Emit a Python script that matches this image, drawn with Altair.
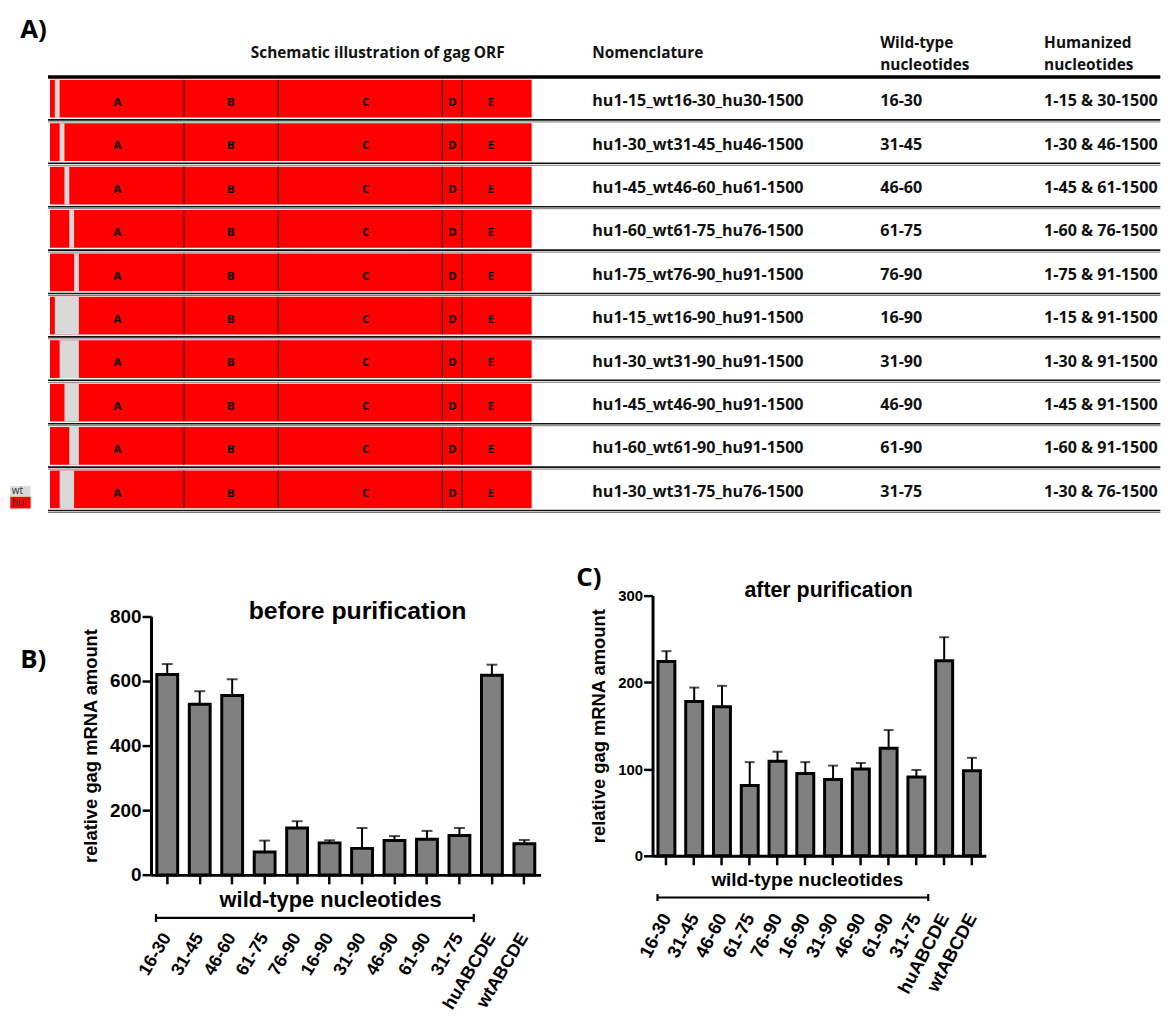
import altair as alt
import pandas as pd

# ---------------- Panel A: construct table ----------------
construct_names = [
    "hu1-15_wt16-30_hu30-1500", "hu1-30_wt31-45_hu46-1500", "hu1-45_wt46-60_hu61-1500",
    "hu1-60_wt61-75_hu76-1500", "hu1-75_wt76-90_hu91-1500", "hu1-15_wt16-90_hu91-1500",
    "hu1-30_wt31-90_hu91-1500", "hu1-45_wt46-90_hu91-1500", "hu1-60_wt61-90_hu91-1500",
    "hu1-30_wt31-75_hu76-1500",
]
wt_nucleotides = ["16-30", "31-45", "46-60", "61-75", "76-90",
                  "16-90", "31-90", "46-90", "61-90", "31-75"]
hu_nucleotides = ["1-15 & 30-1500", "1-30 & 46-1500", "1-45 & 61-1500", "1-60 & 76-1500",
                  "1-75 & 91-1500", "1-15 & 91-1500", "1-30 & 91-1500", "1-45 & 91-1500",
                  "1-60 & 91-1500", "1-30 & 76-1500"]
wt_start = [16, 31, 46, 61, 76, 16, 31, 46, 61, 31]
wt_end = [30, 45, 60, 75, 90, 90, 90, 90, 90, 75]
orf_length = 1500
region_letters = ["A", "B", "C", "D", "E"]
region_boundaries = [417, 711, 1222, 1283]
region_label_pos = [210, 563, 984, 1253, 1373]
legend_keys = ["wt", "hu"]
header_cols = ["Schematic illustration of gag ORF", "Nomenclature",
               "Wild-type", "nucleotides", "Humanized", "nucleotides"]

# ---------------- Panels B / C: relative gag mRNA ----------------
categories = ["16-30", "31-45", "46-60", "61-75", "76-90", "16-90", "31-90",
              "46-90", "61-90", "31-75", "huABCDE", "wtABCDE"]
before_mean = [620, 528, 555, 71, 145, 99, 82, 106, 110, 122, 617, 96]
before_err = [32, 40, 50, 35, 21, 8, 63, 14, 26, 23, 33, 12]
after_mean = [224, 178, 172, 81, 109, 95, 88, 100, 124, 91, 225, 98]
after_err = [12, 16, 24, 27, 11, 13, 16, 7, 21, 8, 27, 15]

RED = "#FF0000"
GREY = "#D9D9D9"
TFONT = "Open Sans"
PFONT = "Liberation Sans"

# Panel A's plot origin is aligned (by the layout) with panel B's plot origin.
ORIGIN_X = 151.7


def ax(px):
    return px - ORIGIN_X


# ================= Panel A =================
A_W, A_H = ax(1168), 437
n_rows = len(construct_names)
rows = pd.DataFrame({
    "row": list(range(n_rows)),
    "name": construct_names,
    "wt": wt_nucleotides,
    "hu": hu_nucleotides,
    "wt_s": [s - 1 for s in wt_start],
    "wt_e": wt_end,
})
rows["y0"] = rows["row"] + 0.065
rows["y1"] = rows["row"] + 0.935
rows["ytxt"] = rows["row"] + 0.56
rows["orf0"] = 0
rows["orf1"] = orf_length

bnd = pd.DataFrame([(r, b) for r in range(n_rows) for b in region_boundaries], columns=["row", "b"])
bnd["y0"] = bnd["row"] + 0.065
bnd["y1"] = bnd["row"] + 0.935
lets = pd.DataFrame([(r, l, p) for r in range(n_rows) for l, p in zip(region_letters, region_label_pos)],
                    columns=["row", "letter", "pos"])
lets["ylab"] = lets["row"] + 0.6
lines = pd.DataFrame({"b": list(range(1, n_rows + 1))})
one = pd.DataFrame({"k": [0]})

xs = alt.Scale(domain=[0, orf_length], range=[ax(50), ax(535)], nice=False, zero=False)
ys = alt.Scale(domain=[0, n_rows], range=[0, A_H], nice=False, zero=False)

red = alt.Chart(rows).mark_rect(color=RED).encode(
    x=alt.X("orf0:Q", scale=xs, axis=None), x2="orf1",
    y=alt.Y("y0:Q", scale=ys, axis=None), y2="y1")
grey = alt.Chart(rows).mark_rect(color=GREY).encode(
    x=alt.X("wt_s:Q", scale=xs, axis=None), x2="wt_e",
    y=alt.Y("y0:Q", scale=ys, axis=None), y2="y1")
seg = alt.Chart(bnd).mark_rule(color="#111111", strokeWidth=1).encode(
    x=alt.X("b:Q", scale=xs, axis=None),
    y=alt.Y("y0:Q", scale=ys, axis=None), y2="y1")
letters = alt.Chart(lets).mark_text(font=TFONT, fontWeight="bold", fontSize=11.5,
                                    color="black", baseline="middle").encode(
    x=alt.X("pos:Q", scale=xs, axis=None),
    y=alt.Y("ylab:Q", scale=ys, axis=None), text="letter:N")

row_texts = []
for col, xpix in [("name", ax(596)), ("wt", ax(886)), ("hu", ax(1051))]:
    row_texts.append(
        alt.Chart(rows).mark_text(align="left", baseline="middle", font=TFONT, fontWeight="bold",
                                  fontSize=16.2, color="#111111").encode(
            x=alt.value(xpix), y=alt.Y("ytxt:Q", scale=ys, axis=None), text=f"{col}:N"))

header_pos = [(ax(380), -23.8, "center"), (ax(596), -23.8, "left"), (ax(886), -34.3, "left"),
              (ax(886), -11.6, "left"), (ax(1051), -34.3, "left"), (ax(1051), -11.6, "left")]
headers = []
for txt, (hx, hy, al) in zip(header_cols, header_pos):
    headers.append(
        alt.Chart(one).mark_text(text=txt, align=al, baseline="middle", font=TFONT,
                                 fontWeight="bold", fontSize=15.5, color="#111111").encode(
            x=alt.value(hx), y=alt.value(hy)))

top_line = alt.Chart(one).mark_rule(color="black", strokeWidth=3.5).encode(
    x=alt.value(ax(48)), x2=alt.value(A_W), y=alt.value(0))
row_line1 = alt.Chart(lines).mark_rule(color="#111111", strokeWidth=1.6, yOffset=-0.5).encode(
    x=alt.value(ax(48)), x2=alt.value(A_W), y=alt.Y("b:Q", scale=ys, axis=None))
row_line2 = alt.Chart(lines).mark_rule(color="#777777", strokeWidth=1, yOffset=1.5).encode(
    x=alt.value(ax(48)), x2=alt.value(A_W), y=alt.Y("b:Q", scale=ys, axis=None))

label_a = alt.Chart(one).mark_text(text="A)", font=TFONT, fontWeight="bold", fontSize=26,
                                   align="left", baseline="top", color="black").encode(
    x=alt.value(ax(20)), y=alt.value(-59.8))

leg_wt = alt.Chart(one).mark_rect(color=GREY).encode(
    x=alt.value(ax(10)), x2=alt.value(ax(30.5)), y=alt.value(412), y2=alt.value(422.7))
leg_hu = alt.Chart(one).mark_rect(color=RED).encode(
    x=alt.value(ax(10)), x2=alt.value(ax(30.5)), y=alt.value(422.7), y2=alt.value(434.4))
leg_wt_t = alt.Chart(one).mark_text(text=legend_keys[0], font=TFONT, fontSize=10, color="#333333",
                                    align="left", baseline="middle").encode(
    x=alt.value(ax(11.5)), y=alt.value(417.2))
leg_hu_t = alt.Chart(one).mark_text(text=legend_keys[1], font=TFONT, fontSize=10, color="#333333",
                                    align="left", baseline="middle").encode(
    x=alt.value(ax(11.5)), y=alt.value(429.2))

panel_a = alt.layer(
    red, grey, seg, letters, *row_texts, *headers, top_line, row_line1, row_line2,
    label_a, leg_wt, leg_hu, leg_wt_t, leg_hu_t
).properties(width=A_W, height=A_H)


# ================= Panels B and C =================
def bar_panel(mean, err, width, height, y_domain, y_range, y_ticks, title, title_pos, title_fs,
              ylab_fs, xlab_fs, xlab_angle, xlab_pad, pad_inner, cap, wt_pos, wt_fs,
              bracket, letter, letter_pos):
    df = pd.DataFrame({"cat": categories, "mean": mean, "err": err})
    df["top"] = df["mean"] + df["err"]
    ytitle = "relative gag mRNA amount"
    xsc = alt.Scale(paddingInner=pad_inner, paddingOuter=pad_inner / 2)
    ysc = alt.Scale(domain=y_domain, range=y_range, nice=False, zero=True)
    xaxis = alt.Axis(labelAngle=xlab_angle, labelFont=PFONT, labelFontSize=xlab_fs,
                     labelFontWeight="bold", labelColor="black", labelPadding=xlab_pad,
                     labelOverlap=False, tickSize=9, tickWidth=2.5, tickColor="black",
                     domainColor="black", domainWidth=3)
    yaxis = alt.Axis(values=y_ticks, labelFont=PFONT, labelFontSize=ylab_fs, labelFontWeight="bold",
                     labelColor="black", labelPadding=1, tickSize=9, tickWidth=2.5,
                     tickColor="black", domainColor="black", domainWidth=3, grid=False,
                     titleFont=PFONT, titleFontSize=18.5, titleFontWeight="bold",
                     titleColor="black", titlePadding=9)
    X = alt.X("cat:N", sort=categories, title=None, scale=xsc, axis=xaxis)
    bars = alt.Chart(df).mark_bar(fill="#808080", stroke="black", strokeWidth=3).encode(
        x=X, y=alt.Y("mean:Q", title=ytitle, scale=ysc, axis=yaxis))
    ebar = alt.Chart(df).mark_rule(color="black", strokeWidth=2).encode(
        x=alt.X("cat:N", sort=categories, title=None),
        y=alt.Y("mean:Q", title=ytitle), y2="top")
    ecap = alt.Chart(df).mark_tick(color="black", thickness=2, size=cap).encode(
        x=alt.X("cat:N", sort=categories, title=None),
        y=alt.Y("top:Q", title=ytitle))
    ttl = alt.Chart(one).mark_text(text=title, font=PFONT, fontWeight="bold", fontSize=title_fs,
                                   color="black", baseline="middle").encode(
        x=alt.value(title_pos[0]), y=alt.value(title_pos[1]))
    wtt = alt.Chart(one).mark_text(text="wild-type nucleotides", font=PFONT, fontWeight="bold",
                                   fontSize=wt_fs, color="black", baseline="middle").encode(
        x=alt.value(wt_pos[0]), y=alt.value(wt_pos[1]))
    bx0, bx1, by, bh = bracket
    br = alt.Chart(one).mark_rule(color="black", strokeWidth=2.2).encode(
        x=alt.value(bx0), x2=alt.value(bx1), y=alt.value(by))
    brl = alt.Chart(one).mark_rule(color="black", strokeWidth=2.2).encode(
        x=alt.value(bx0), y=alt.value(by - bh), y2=alt.value(by + bh))
    brr = alt.Chart(one).mark_rule(color="black", strokeWidth=2.2).encode(
        x=alt.value(bx1), y=alt.value(by - bh), y2=alt.value(by + bh))
    let = alt.Chart(one).mark_text(text=letter, font=TFONT, fontWeight="bold", fontSize=26,
                                   color="black", align="left", baseline="middle").encode(
        x=alt.value(letter_pos[0]), y=alt.value(letter_pos[1]))
    return alt.layer(bars, ebar, ecap, ttl, wtt, br, brl, brr, let).properties(
        width=width, height=height)


B_W, B_H = 392.3, 281.2
panel_b = bar_panel(before_mean, before_err, B_W, B_H, [0, 800], [B_H, 20.7],
                    [0, 200, 400, 600, 800], "before purification", (208, 15.4), 25,
                    19, 18, -59, 51, 0.358, 11, (180.8, 306.5), 22,
                    (5, 325, 324.5, 4), "B)", (-131.7, 64.7))

C_W, C_H = 335.6, 262
panel_c = bar_panel(after_mean, after_err, C_W, C_H, [0, 300], [C_H, 0],
                    [0, 100, 200, 300], "after purification", (177.3, -4.4), 21.5,
                    15, 18.5, -62, 50, 0.39, 10, (155.8, 285.9), 19,
                    (5, 277.6, 304, 3.5), "C)", (-76.7, -17.3))

bottom = alt.hconcat(panel_b, panel_c, spacing=35).resolve_scale(x="independent", y="independent")

chart = alt.vconcat(panel_a, bottom, spacing=52.2).resolve_scale(
    x="independent", y="independent"
).properties(
    padding={"left": 2, "top": 6, "right": 0, "bottom": 0}
).configure_view(strokeWidth=0)

chart.save("out.html", embed_options={"renderer": "svg", "actions": False})
